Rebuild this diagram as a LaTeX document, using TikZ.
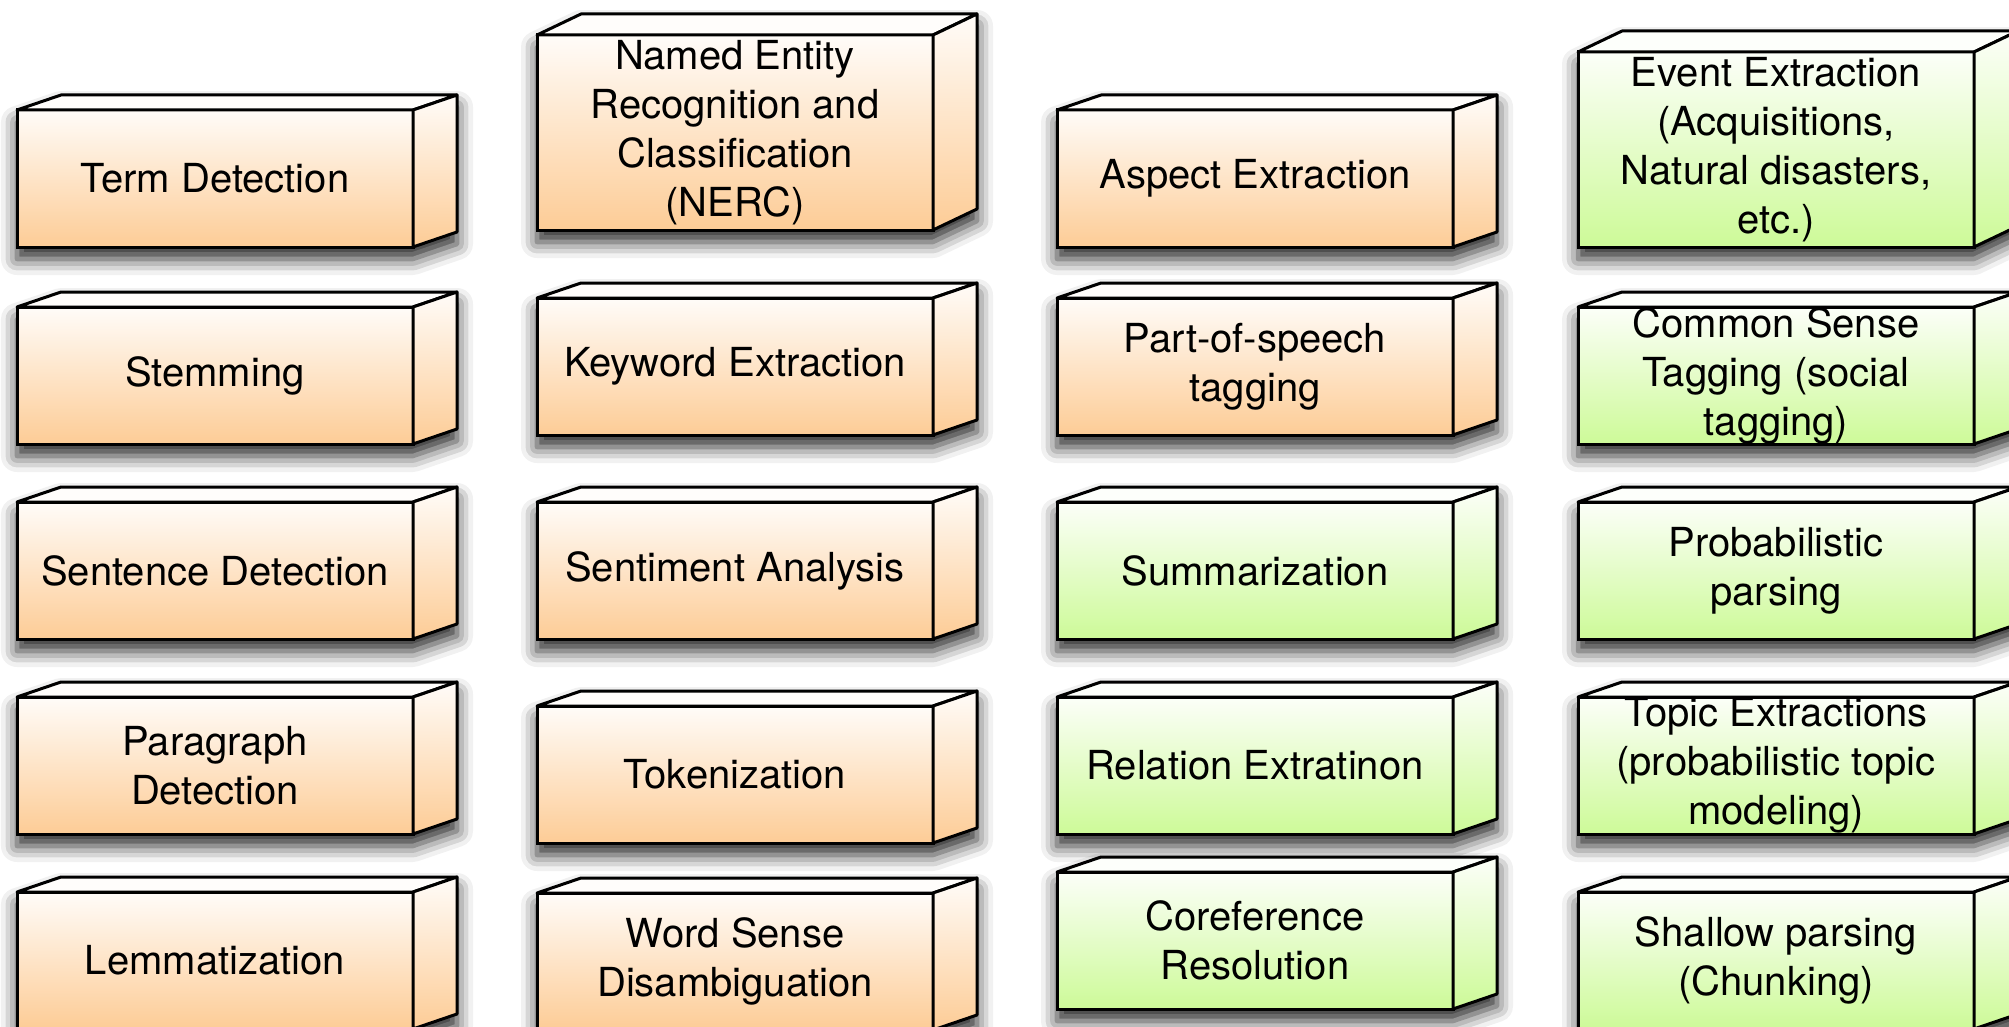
\documentclass[tikz,border=0pt]{standalone}
\usepackage{fontspec}
\setmainfont{TeX Gyre Heros}
\usetikzlibrary{backgrounds,shadows.blur}

% block colours (bottom of the gradient)
\definecolor{peachFill}{RGB}{253,204,150}
\definecolor{limeFill}{RGB}{205,250,152}

\tikzset{
	task/.style={draw, line width=3pt, outer sep=0pt, inner sep=0pt,
		minimum width=396pt, minimum height=137pt, align=center,
		font=\fontsize{40}{49}\selectfont},
	tall/.style={minimum height=195pt},
	peach/.style={top color=peachFill!6, bottom color=peachFill},
	lime/.style={top color=limeFill!6, bottom color=limeFill},
	edge/.style={line width=3pt, line join=round},
	blockShadow/.style={blur shadow={shadow xshift=0pt, shadow yshift=-12pt,
		shadow blur radius=16pt, shadow opacity=85}}
}

\begin{document}
\begin{tikzpicture}[x=1pt, y=-1pt]
	\useasboundingbox (0,0) rectangle (2009,1027);
	% first column
	\node[task, peach] (term) at (215,178.5) {Term Detection};
	\node[task, peach] (stemming) at (215,375.5) {Stemming};
	\node[task, peach] (sentence) at (215,570.5) {Sentence Detection};
	\node[task, peach] (paragraph) at (215,765.5) {Paragraph\\Detection};
	\node[task, peach] (lemma) at (215,960.5) {Lemmatization};
	% second column
	\node[task, tall, peach] (nerc) at (735,132.5) {Named Entity\\Recognition and\\Classification\\(NERC)};
	\node[task, peach] (keyword) at (735,366.5) {Keyword Extraction};
	\node[task, peach] (sentiment) at (735,570.5) {Sentiment Analysis};
	\node[task, peach] (token) at (735,774.5) {Tokenization};
	\node[task, peach] (wsd) at (735,961.5) {Word Sense\\Disambiguation};
	% third column
	\node[task, peach] (aspect) at (1255,178.5) {Aspect Extraction};
	\node[task, peach] (pos) at (1255,366.5) {Part-of-speech\\tagging};
	\node[task, lime] (summary) at (1255,570.5) {Summarization};
	\node[task, lime] (relation) at (1255,765.5) {Relation Extratinon};
	\node[task, lime] (coref) at (1255,940.5) {Coreference\\Resolution};
	% fourth column
	\node[task, tall, lime] (event) at (1776,149.5) {Event Extraction\\(Acquisitions,\\Natural disasters,\\etc.)};
	\node[task, lime] (commonsense) at (1776,375.5) {Common Sense\\Tagging (social\\tagging)};
	\node[task, lime] (probparse) at (1776,570.5) {Probabilistic\\parsing};
	\node[task, lime] (topic) at (1776,765.5) {Topic Extractions\\(probabilistic topic\\modeling)};
	\node[task, lime] (shallow) at (1776,960.5) {Shallow parsing\\(Chunking)};
	% top and side faces of every block
	\foreach \name/\depth/\tone in {term/15/peachFill, stemming/15/peachFill,
		sentence/15/peachFill, paragraph/15/peachFill, lemma/15/peachFill,
		nerc/21/peachFill, keyword/15/peachFill, sentiment/15/peachFill,
		token/15/peachFill, wsd/15/peachFill, aspect/15/peachFill,
		pos/15/peachFill, summary/15/limeFill, relation/15/limeFill,
		coref/15/limeFill, event/21/limeFill, commonsense/15/limeFill,
		probparse/15/limeFill, topic/15/limeFill, shallow/15/limeFill}
	{
		% shadow
		\begin{scope}[on background layer]
			\path[blockShadow] (\name.south west) -- (\name.north west) -- ++(44,-\depth)
				-- ([shift={(44,-\depth)}]\name.north east) -- ([shift={(44,-\depth)}]\name.south east)
				-- (\name.south east) -- cycle;
		\end{scope}
		% top
		\draw[edge, fill=\tone!4] (\name.north west) -- ++(44,-\depth)
			-- ([shift={(44,-\depth)}]\name.north east) -- (\name.north east) -- cycle;
		% side
		\draw[edge, top color=\tone!6, bottom color=\tone] (\name.north east) -- ++(44,-\depth)
			-- ([shift={(44,-\depth)}]\name.south east) -- (\name.south east) -- cycle;
	}
\end{tikzpicture}
\end{document}
